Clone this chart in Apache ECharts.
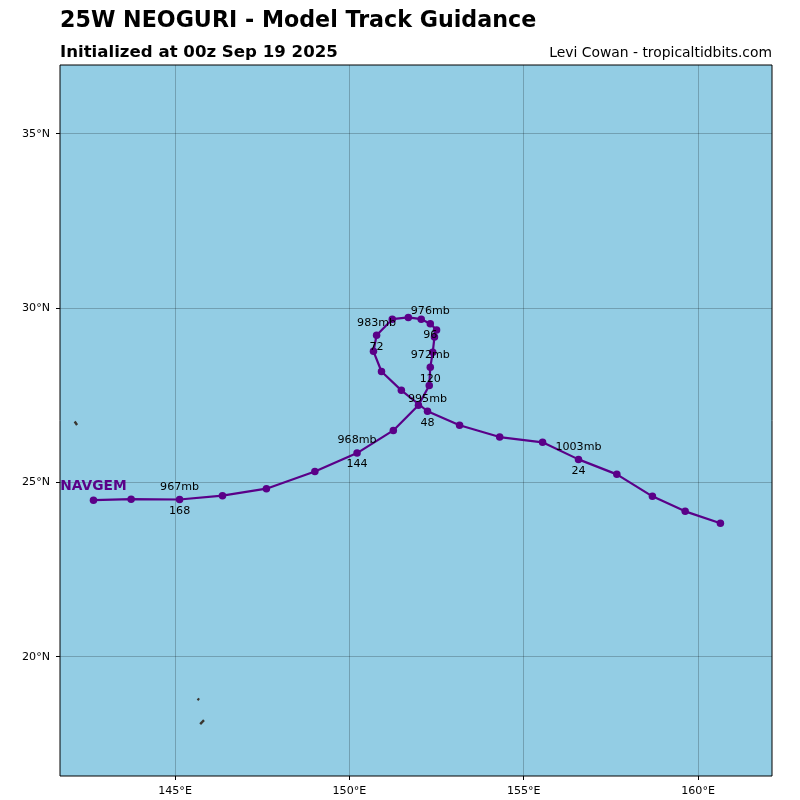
<!DOCTYPE html>
<html lang="en">
<head>
    <meta charset="UTF-8">
    <title>25W NEOGURI - Model Track Guidance</title>
    <script src="https://cdn.jsdelivr.net/npm/echarts@6/dist/echarts.min.js"></script>
    <style>
        html, body { margin: 0; padding: 0; background: #ffffff; }
    </style>
</head>
<body>
<div id="trackChart" style="width: 800px; height: 800px;"></div>
<script>
    // NAVGEM track, one entry every 6 hours from hour 0
    var forecastHours = [0, 6, 12, 18, 24, 30, 36, 42, 48, 54, 60, 66, 72, 78, 84, 90, 96, 102, 108, 114, 120, 126, 132, 138, 144, 150, 156, 162, 168, 174, 180];
    var trackLon = [160.64, 159.63, 158.69, 157.67, 156.57, 155.54, 154.31, 153.16, 152.24, 151.49, 150.92, 150.69, 150.78, 151.23, 151.69, 152.06, 152.32, 152.50, 152.44, 152.39, 152.32, 152.29, 151.98, 151.26, 150.22, 149.01, 147.62, 146.36, 145.13, 143.74, 142.66];
    var trackLat = [23.83, 24.17, 24.60, 25.23, 25.66, 26.15, 26.30, 26.64, 27.04, 27.64, 28.18, 28.76, 29.22, 29.68, 29.73, 29.68, 29.55, 29.37, 29.17, 28.73, 28.30, 27.78, 27.21, 26.49, 25.84, 25.31, 24.82, 24.62, 24.51, 24.52, 24.49];

    // labelled every 24 hours
    var labelHours = [24, 48, 72, 96, 120, 144, 168];
    var labelPressure = ['1003mb', '995mb', '983mb', '976mb', '972mb', '968mb', '967mb'];

    var lonTicks = [145, 150, 155, 160];
    var latTicks = [20, 25, 30, 35];

    // the few bits of land in view
    var islandLon = [[142.12, 142.19], [145.645, 145.69], [145.72, 145.83]];
    var islandLat = [[26.745, 26.645], [18.80, 18.76], [18.07, 18.18]];

    var modelName = 'NAVGEM';
    var trackColor = '#5a0088';
    var textFont = '"DejaVu Sans"';

    var trackData = trackLon.map(function (lon, i) {
        return [lon, trackLat[i]];
    });

    var hourData = labelHours.map(function (h) {
        var i = forecastHours.indexOf(h);
        return { value: trackData[i], name: String(h) };
    });

    var pressureData = labelHours.map(function (h, k) {
        var i = forecastHours.indexOf(h);
        return { value: trackData[i], name: labelPressure[k] };
    });

    // model name sits over the last point of the track
    var nameData = [{ value: trackData[trackData.length - 1], name: modelName }];

    function labelSeries(data, position, distance, color, fontSize, fontWeight) {
        return {
            type: 'scatter',
            symbolSize: 0,
            silent: true,
            z: 5,
            // scatter defaults to 0.8 opacity and the label inherits it
            itemStyle: { opacity: 1 },
            data: data,
            label: {
                show: true,
                position: position,
                distance: distance,
                formatter: '{b}',
                color: color,
                fontFamily: textFont,
                fontSize: fontSize,
                fontWeight: fontWeight
            }
        };
    }

    var islandSeries = islandLon.map(function (lons, i) {
        return {
            type: 'line',
            symbol: 'none',
            silent: true,
            z: 1,
            lineStyle: { color: '#3a3630', width: 2.4 },
            data: lons.map(function (lon, j) { return [lon, islandLat[i][j]]; })
        };
    });

    var myChart = echarts.init(document.getElementById('trackChart'));
    myChart.setOption({
        animation: false,
        backgroundColor: '#ffffff',
        title: [{
            text: '25W NEOGURI - Model Track Guidance',
            left: 60,
            top: 10,
            padding: 0,
            textStyle: { fontFamily: textFont, fontSize: 22.2, fontWeight: 'bold', color: '#000000' }
        }, {
            text: 'Initialized at 00z Sep 19 2025',
            left: 60,
            top: 44,
            padding: 0,
            textStyle: { fontFamily: textFont, fontSize: 16.6, fontWeight: 'bold', color: '#000000' }
        }, {
            text: 'Levi Cowan - tropicaltidbits.com',
            right: 28,
            top: 46,
            padding: 0,
            textStyle: { fontFamily: textFont, fontSize: 13.9, fontWeight: 'normal', color: '#000000' }
        }],
        grid: {
            left: 60,
            top: 65,
            width: 712,
            height: 711,
            show: true,
            backgroundColor: '#93cde4',
            borderColor: '#000000',
            borderWidth: 1
        },
        xAxis: {
            type: 'value',
            min: 141.7,
            max: 162.12,
            axisLine: { show: false },
            axisTick: { show: true, length: 4, customValues: lonTicks, lineStyle: { color: '#000000' } },
            axisLabel: {
                customValues: lonTicks,
                margin: 10,
                color: '#000000',
                fontFamily: textFont,
                fontSize: 11.1,
                formatter: function (v) { return v + '°E'; }
            },
            splitLine: { show: true, lineStyle: { color: 'rgba(0,0,0,0.22)', width: 1 } }
        },
        yAxis: {
            type: 'value',
            min: 16.58,
            max: 36.97,
            axisLine: { show: false },
            axisTick: { show: true, length: 4, customValues: latTicks, lineStyle: { color: '#000000' } },
            axisLabel: {
                customValues: latTicks,
                margin: 10,
                color: '#000000',
                fontFamily: textFont,
                fontSize: 11.1,
                formatter: function (v) { return v + '°N'; }
            },
            splitLine: { show: true, lineStyle: { color: 'rgba(0,0,0,0.22)', width: 1 } }
        },
        series: islandSeries.concat([{
            name: modelName,
            type: 'line',
            z: 3,
            symbol: 'circle',
            symbolSize: 7.5,
            showAllSymbols: true,
            lineStyle: { color: trackColor, width: 2.2 },
            itemStyle: { color: trackColor },
            data: trackData
        },
        labelSeries(hourData, 'bottom', 6, '#000000', 11.1, 'normal'),
        labelSeries(pressureData, 'top', 7, '#000000', 11.1, 'normal'),
        labelSeries(nameData, 'top', 7, trackColor, 13.8, 'bold')])
    });
</script>
</body>
</html>
